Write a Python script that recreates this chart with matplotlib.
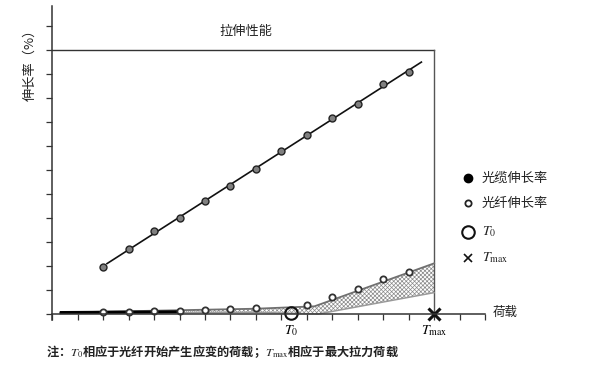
import matplotlib
matplotlib.use("Agg")
import matplotlib.pyplot as plt
import numpy as np
from matplotlib.lines import Line2D

plt.rcParams["font.family"] = ["Noto Sans CJK SC", "DejaVu Sans"]
plt.rcParams["mathtext.fontset"] = "stix"
plt.rcParams["hatch.linewidth"] = 0.5
plt.rcParams["hatch.color"] = "#8a8a8a"

# 荷载刻度（无具体数值，按刻度序号）
x_ticks = np.arange(0, 18)
y_ticks = np.arange(0, 13)

# 光缆伸长率
cable_x = [2, 3, 4, 5, 6, 7, 8, 9, 10, 11, 12, 13, 14]
cable_y = [1.95, 2.71, 3.45, 3.99, 4.71, 5.33, 6.04, 6.80, 7.45, 8.15, 8.75, 9.57, 10.08]
cable_fit_x = [2.15, 14.5]

# 光纤伸长率
fiber_x = [2, 3, 4, 5, 6, 7, 8, 10, 11, 12, 13, 14]
fiber_y = [0.10, 0.08, 0.12, 0.12, 0.16, 0.19, 0.24, 0.37, 0.70, 1.04, 1.45, 1.76]

# 阴影区上下边界
upper_x = [0.3, 8.0, 10.3, 15.0]
upper_y = [0.06, 0.22, 0.32, 2.11]
lower_x = [0.3, 8.0, 10.45, 15.0]
lower_y = [0.02, 0.07, 0.0, 0.89]
start_x = [0.3, 5.0]
start_y = [0.06, 0.09]

t0 = (9.38, 0.04)
tmax = (15.0, 0.0)
frame_top = 11
title = "拉伸性能"

fig = plt.figure(figsize=(5.96, 3.69), dpi=100)
ax = fig.add_axes([0.0877, 0.1328, 0.7261, 0.8509])
ax.set_xlim(0, 17)
ax.set_ylim(-0.25, 12.83)

# 坐标轴
for s in ["top", "right"]:
    ax.spines[s].set_visible(False)
ax.spines["bottom"].set_position(("data", 0))
ax.spines["bottom"].set_bounds(0, 17)
ax.spines["left"].set_bounds(-0.25, 12.83)
for s in ["bottom", "left"]:
    ax.spines[s].set_color("#333333")
    ax.spines[s].set_linewidth(1.1)
ax.set_xticks(x_ticks)
ax.set_yticks(y_ticks)
ax.set_xticklabels([])
ax.set_yticklabels([])
ax.tick_params(direction="out", length=4, width=0.9, color="#333333")

# 外框
ax.plot([0, tmax[0]], [frame_top, frame_top], color="#333333", lw=1.0)
ax.plot([tmax[0], tmax[0]], [0, frame_top], color="#555555", lw=1.0)

# 阴影区
xx = np.linspace(0.3, 15.0, 300)
up = np.interp(xx, upper_x, upper_y)
lo = np.interp(xx, lower_x, lower_y)
ax.fill_between(xx, lo, up, facecolor="white", edgecolor="#8a8a8a", hatch="xxxxxxxx", lw=0)
ax.plot(upper_x, upper_y, color="#707070", lw=1.3)
ax.plot(lower_x, lower_y, color="#9a9a9a", lw=1.1)
ax.plot(start_x, start_y, color="black", lw=2.2, solid_capstyle="butt")

# 光缆
fit = np.polyfit(cable_x, cable_y, 1)
ax.plot(cable_fit_x, np.polyval(fit, cable_fit_x), color="#111111", lw=1.2)
ax.plot(cable_x, cable_y, "o", ms=5, mfc="#808080", mec="#222222", mew=1.0)

# 光纤
ax.plot(fiber_x, fiber_y, "o", ms=4.5, mfc="white", mec="#333333", mew=1.3, clip_on=False)

# T0 与 Tmax
ax.plot(*t0, "o", ms=9, mfc="none", mec="#111111", mew=1.5)
ax.plot(*tmax, "x", ms=8, mec="#111111", mew=2.2, clip_on=False)

ax.text(t0[0], -0.4, r"$T_0$", ha="center", va="top", fontsize=10)
ax.text(tmax[0], -0.4, r"$T_{\mathrm{max}}$", ha="center", va="top", fontsize=10)
ax.text(17.3, 0.05, "荷载", ha="left", va="center", fontsize=9, color="#222222")
ax.text(7.6, 11.75, title, ha="center", va="center", fontsize=9.5, color="#222222")

# 纵轴标题
fig.text(30 / 596, 1 - 62 / 369, "伸长率（%）", rotation=90, ha="center", va="center",
         fontsize=9.5, color="#222222")

# 图例
legend_items = [
    (178, dict(marker="o", ms=6, mfc="black", mec="black", mew=1), "光缆伸长率"),
    (203, dict(marker="o", ms=4.5, mfc="white", mec="#222222", mew=1.3), "光纤伸长率"),
    (232, dict(marker="o", ms=9, mfc="none", mec="#111111", mew=1.5), r"$T_0$"),
    (258, dict(marker="x", ms=6, mec="#111111", mew=1.2), r"$T_{\mathrm{max}}$"),
]
for py, style, label in legend_items:
    yf = 1 - py / 369
    fig.add_artist(Line2D([468 / 596], [yf], linestyle="none", transform=fig.transFigure, **style))
    fs = 10 if label.startswith("$") else 9.5
    fig.text(482 / 596, yf, label, ha="left", va="center", fontsize=fs, color="#222222")

# 注释
fig.text(46 / 596, 1 - 352 / 369,
         r"注：$T_0$相应于光纤开始产生应变的荷载；$T_{\mathrm{max}}$相应于最大拉力荷载",
         ha="left", va="center", fontsize=8.8, fontweight="bold", color="#222222")

fig.savefig("out.png", dpi=100)
